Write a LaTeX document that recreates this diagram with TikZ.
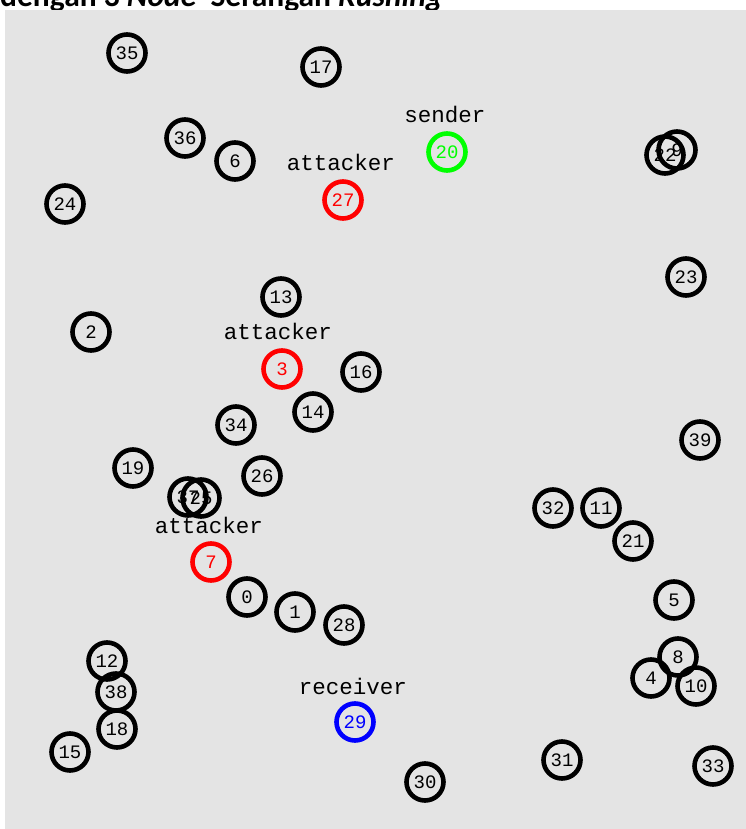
\documentclass[tikz,border=0pt]{standalone}
\usepackage{fontspec}
\setmainfont{Carlito}
\newfontfamily\monofnt{Liberation Mono}
\begin{document}
\begin{tikzpicture}[x=1pt,y=-1pt,
  nd/.style={circle,draw=black,line width=4.6pt,minimum size=37pt,inner sep=0pt,
     font=\monofnt\fontsize{19}{19}\selectfont},
  ndr/.style={nd,draw=red,text=red},
  ndg/.style={nd,draw=green!100,text=green},
  ndb/.style={nd,draw=blue,text=blue},
  lbl/.style={inner sep=0pt,font=\monofnt\fontsize{22.5}{22.5}\selectfont}]
\definecolor{bgray}{RGB}{228,228,228}
\useasboundingbox (0,0) rectangle (746,829);
\clip (0,0) rectangle (746,829);
\node[anchor=base west,inner sep=0pt,font=\fontsize{31.5}{31.5}\selectfont\bfseries] (title) at (0,7)
  {dengan 3 \textit{Node}\ \ Serangan \textit{Rushing}};
\fill[bgray] (5,10) rectangle (746,829);
% nodes
\node[nd] (n35) at (127,53) {35};
\node[nd] (n17) at (321,67) {17};
\node[lbl] (ls) at (445,114) {sender};
\node[ndg] (n20) at (447,152) {20};
\node[nd] (n22) at (665,155) {22};
\node[nd] (n9) at (677,150) {9};
\node[nd] (n36) at (185,138) {36};
\node[nd] (n6) at (235,161) {6};
\node[lbl] (la1) at (341,162) {attacker};
\node[ndr] (n27) at (343,200) {27};
\node[nd] (n24) at (65,204) {24};
\node[nd] (n23) at (686,277) {23};
\node[nd] (n13) at (281,297) {13};
\node[nd] (n2) at (91,332) {2};
\node[lbl] (la2) at (278,331) {attacker};
\node[ndr] (n3) at (282,369) {3};
\node[nd] (n16) at (361,372) {16};
\node[nd] (n14) at (313,412) {14};
\node[nd] (n34) at (236,425) {34};
\node[nd] (n39) at (700,440) {39};
\node[nd] (n19) at (133,468) {19};
\node[nd] (n26) at (262,476) {26};
\node[nd] (n37) at (188,497) {37};
\node[nd] (n25) at (201,498) {25};
\node[nd] (n32) at (553,508) {32};
\node[nd] (n11) at (601,508) {11};
\node[nd] (n21) at (633,541) {21};
\node[lbl] (la3) at (209,525) {attacker};
\node[ndr] (n7) at (211,562) {7};
\node[nd] (n0) at (247,597) {0};
\node[nd] (n5) at (674,600) {5};
\node[nd] (n1) at (295,612) {1};
\node[nd] (n28) at (344,625) {28};
\node[nd] (n8) at (678,657) {8};
\node[nd] (n12) at (107,661) {12};
\node[nd] (n4) at (651,678) {4};
\node[nd] (n10) at (696,686) {10};
\node[nd] (n38) at (116,692) {38};
\node[lbl] (lr) at (353,686) {receiver};
\node[ndb] (n29) at (355,722) {29};
\node[nd] (n18) at (117,729) {18};
\node[nd] (n15) at (70,752) {15};
\node[nd] (n31) at (562,760) {31};
\node[nd] (n33) at (713,766) {33};
\node[nd] (n30) at (425,782) {30};
\end{tikzpicture}
\end{document}
